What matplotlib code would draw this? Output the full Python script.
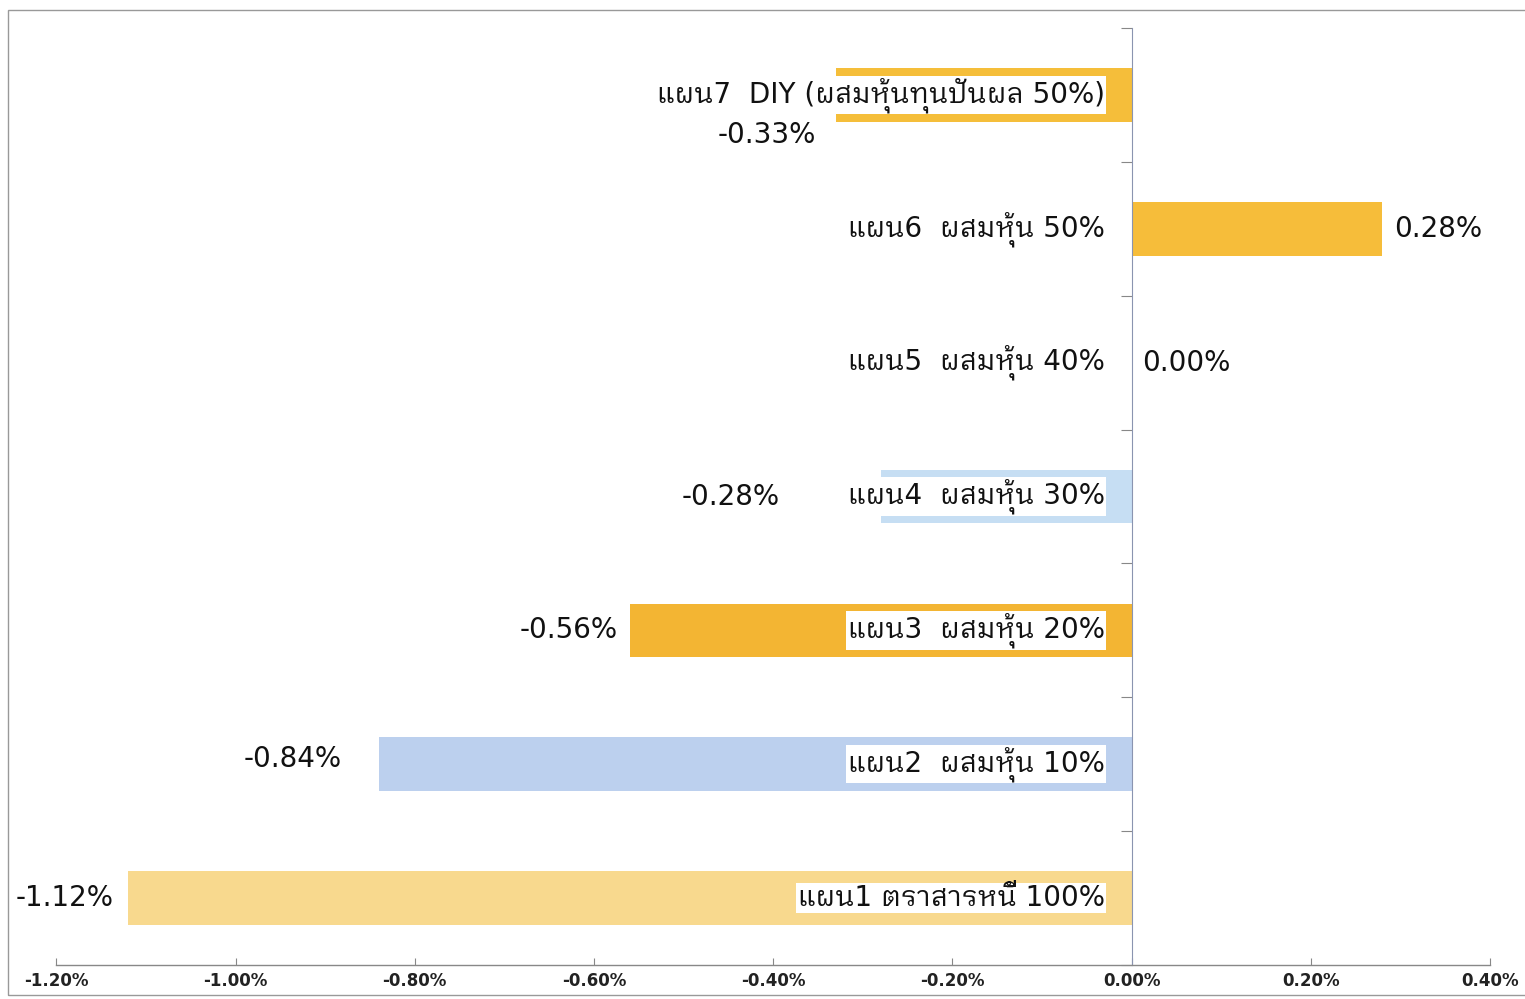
import matplotlib
matplotlib.use("Agg")
import matplotlib.pyplot as plt
from matplotlib.patches import Rectangle

plt.rcParams["font.family"] = ["DejaVu Sans", "IBM Plex Sans Thai Looped", "Noto Sans Thai Looped"]

# ── ข้อมูล ────────────────────────────────────────────
plans = [
    "แผน1 ตราสารหนี้ 100%",
    "แผน2  ผสมหุ้น 10%",
    "แผน3  ผสมหุ้น 20%",
    "แผน4  ผสมหุ้น 30%",
    "แผน5  ผสมหุ้น 40%",
    "แผน6  ผสมหุ้น 50%",
    "แผน7  DIY (ผสมหุ้นทุนปันผล 50%)",
]
returns = [-1.12, -0.84, -0.56, -0.28, 0.00, 0.28, -0.33]   # %
colors = ["#F8D98E", "#BCD0EE", "#F3B533", "#C6DEF3", "#FFFFFF", "#F6BD3A", "#F5BE3A"]
xticks = [-1.2, -1.0, -0.8, -0.6, -0.4, -0.2, 0.0, 0.2, 0.4]

# ตำแหน่งป้ายค่า (ปรับด้วยมือแบบ Excel)
val_dx = [0.016, 0.042, 0.013, 0.113, 0.012, 0.013, 0.022]
val_dy = [0.0, 0.04, 0.0, 0.0, 0.0, 0.0, -0.3]

FS = 20

fig = plt.figure(figsize=(15.25, 9.99), dpi=100)
ax = fig.add_axes([0.037, 0.034, 0.94, 0.938])

ypos = list(range(len(plans)))
ax.barh(ypos, returns, height=0.4, color=colors, edgecolor="none", zorder=2)

for y, v, lab, dx, dy in zip(ypos, returns, plans, val_dx, val_dy):
    ax.text(-0.03, y, lab, ha="right", va="center", fontsize=FS, color="#111111",
            zorder=4, bbox=dict(facecolor="white", edgecolor="none", pad=1.0))
    txt = f"{v:.2f}%"
    if v < 0:
        ax.text(v - dx, y + dy, txt, ha="right", va="center", fontsize=FS,
                color="#111111", zorder=4)
    else:
        ax.text(v + dx, y + dy, txt, ha="left", va="center", fontsize=FS,
                color="#111111", zorder=4)

ax.set_xlim(-1.2, 0.4)
ax.set_ylim(-0.5, 6.5)
ax.set_xticks(xticks)
ax.set_xticklabels([f"{t:.2f}%" for t in xticks], fontsize=12, fontweight="semibold",
                   color="#222222")
ax.tick_params(axis="x", direction="in", length=5, color="#888888", pad=5)

ax.set_yticks([i - 0.5 for i in range(len(plans) + 1)])
ax.set_yticklabels([])
ax.tick_params(axis="y", direction="out", length=8, color="#888888")

for s in ["top", "right"]:
    ax.spines[s].set_visible(False)
ax.spines["bottom"].set_color("#888888")
ax.spines["bottom"].set_linewidth(1.0)

# เส้นแกน y ที่ 0
ax.spines["left"].set_position(("data", 0))
ax.spines["left"].set_color("#8A94B0")

fig.patches.append(Rectangle((0.005, 0.004), 1.0, 0.986, transform=fig.transFigure,
                             fill=False, edgecolor="#999999", lw=1.0))

fig.savefig("out.png", dpi=100)
